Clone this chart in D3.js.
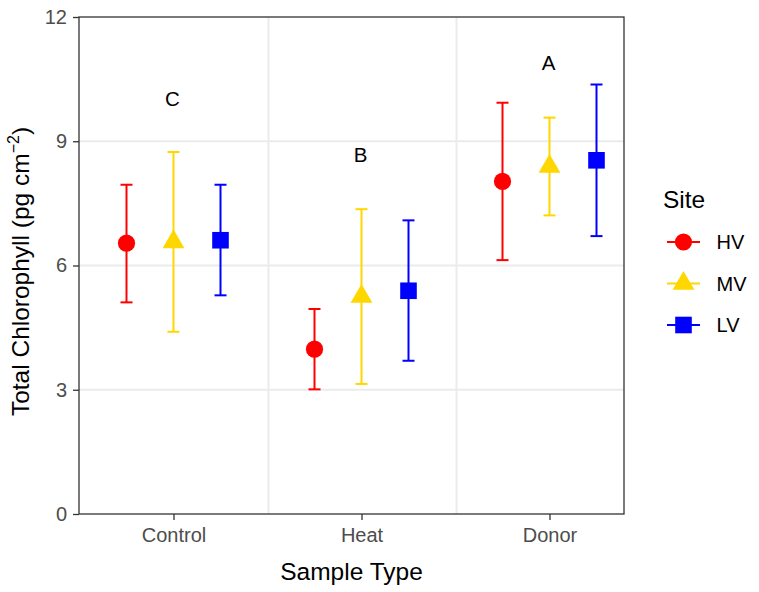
<!DOCTYPE html>
<html>
<head>
<meta charset="utf-8">
<script src="https://cdn.jsdelivr.net/npm/d3@7/dist/d3.min.js"></script>
<style>
  html, body { margin: 0; padding: 0; background: #fff; }
  svg { display: block; font-family: "Liberation Sans", Arial, Helvetica, sans-serif; }
</style>
</head>
<body>
<svg id="chart" width="759" height="592"></svg>
<script>
// Total chlorophyll by sample type and site: mean with error bars
const sampleTypes = ["Control", "Heat", "Donor"];
const sites = ["HV", "MV", "LV"];
const siteColors = ["#FF0000", "#FFD700", "#0000FF"];

// rows follow sampleTypes, columns follow sites
const meanValues = [
  [6.54, 6.57, 6.61],
  [3.98, 5.25, 5.39],
  [8.03, 8.39, 8.54]
];
const lowerValues = [
  [5.11, 4.40, 5.28],
  [3.01, 3.14, 3.70],
  [6.13, 7.21, 6.71]
];
const upperValues = [
  [7.95, 8.74, 7.95],
  [4.95, 7.36, 7.09],
  [9.93, 9.57, 10.37]
];

// significance letters above each sample type
const groupLetters = ["C", "B", "A"];
const letterHeights = [10.02, 8.67, 10.9];

const yTicks = [0, 3, 6, 9, 12];

// layout
const panel = { left: 79, right: 624, top: 17, bottom: 514 };
const svg = d3.select("#chart");

const y = d3.scaleLinear().domain([0, 12]).range([panel.bottom, panel.top]);
const x = d3.scaleLinear().domain([0, 2]).range([173.5, 549.5]);
const dodge = d3.scaleLinear().domain([0, 2]).range([-47, 47]);

// grid
const grid = svg.append("g");
grid.selectAll("line.h")
  .data(yTicks.filter(t => t > 0 && t < 12))
  .join("line")
  .attr("x1", panel.left).attr("x2", panel.right)
  .attr("y1", d => y(d)).attr("y2", d => y(d))
  .attr("stroke", "#EBEBEB").attr("stroke-width", 2);
grid.selectAll("line.v")
  .data([0.5, 1.5])
  .join("line")
  .attr("x1", d => x(d) + 1).attr("x2", d => x(d) + 1)
  .attr("y1", panel.top).attr("y2", panel.bottom)
  .attr("stroke", "#EBEBEB").attr("stroke-width", 2);

// build flat records
const records = [];
sampleTypes.forEach((st, i) => {
  sites.forEach((s, j) => {
    records.push({
      type: i, site: j,
      mean: meanValues[i][j],
      lo: lowerValues[i][j],
      hi: upperValues[i][j]
    });
  });
});

const capHalf = 6;
const marks = svg.append("g");
const eb = marks.selectAll("g.eb").data(records).join("g")
  .attr("transform", d => `translate(${x(d.type) + dodge(d.site)},0)`);
eb.append("line")
  .attr("x1", 0).attr("x2", 0)
  .attr("y1", d => y(d.lo)).attr("y2", d => y(d.hi))
  .attr("stroke", d => siteColors[d.site]).attr("stroke-width", 2);
eb.append("line")
  .attr("x1", -capHalf).attr("x2", capHalf)
  .attr("y1", d => y(d.hi)).attr("y2", d => y(d.hi))
  .attr("stroke", d => siteColors[d.site]).attr("stroke-width", 2);
eb.append("line")
  .attr("x1", -capHalf).attr("x2", capHalf)
  .attr("y1", d => y(d.lo)).attr("y2", d => y(d.lo))
  .attr("stroke", d => siteColors[d.site]).attr("stroke-width", 2);

// point shapes: circle, triangle, square
function shapePath(k) {
  if (k === 0) {
    const r = 8.6;
    return `M${-r},0A${r},${r} 0 1,0 ${r},0A${r},${r} 0 1,0 ${-r},0Z`;
  }
  if (k === 1) {
    const r = 8.1;
    return `M0,${-1.5551 * r}L${1.3468 * r},${0.7776 * r}L${-1.3468 * r},${0.7776 * r}Z`;
  }
  const h = 8.3;
  return `M${-h},${-h}H${h}V${h}H${-h}Z`;
}

eb.append("path")
  .attr("transform", d => `translate(0,${y(d.mean)})`)
  .attr("d", d => shapePath(d.site))
  .attr("fill", d => siteColors[d.site]);

// letters
svg.append("g").selectAll("text").data(groupLetters).join("text")
  .attr("x", (d, i) => x(i) - 1)
  .attr("y", (d, i) => y(letterHeights[i]))
  .attr("dy", "0.36em")
  .attr("text-anchor", "middle")
  .attr("font-size", 20.5)
  .attr("fill", "#000")
  .text(d => d);

// panel border
svg.append("rect")
  .attr("x", panel.left).attr("y", panel.top)
  .attr("width", panel.right - panel.left).attr("height", panel.bottom - panel.top)
  .attr("fill", "none").attr("stroke", "#333333").attr("stroke-width", 1.3);

// y axis
const yAxis = svg.append("g")
  .attr("transform", `translate(${panel.left},0)`)
  .call(d3.axisLeft(y).tickValues(yTicks).tickSize(6).tickPadding(6).tickFormat(d3.format("d")));
yAxis.select(".domain").remove();
yAxis.selectAll(".tick line").attr("stroke", "#333333").attr("stroke-width", 1.3);
yAxis.selectAll(".tick text")
  .attr("font-size", 20).attr("fill", "#4D4D4D")
  .attr("font-family", "Liberation Sans, Arial, Helvetica, sans-serif");

// x axis
const xAxis = svg.append("g")
  .attr("transform", `translate(0,${panel.bottom})`)
  .call(d3.axisBottom(x).tickValues([0, 1, 2]).tickSize(6).tickPadding(8)
    .tickFormat(i => sampleTypes[i]));
xAxis.select(".domain").remove();
xAxis.selectAll(".tick line").attr("stroke", "#333333").attr("stroke-width", 1.3);
xAxis.selectAll(".tick text")
  .attr("font-size", 20).attr("fill", "#4D4D4D")
  .attr("font-family", "Liberation Sans, Arial, Helvetica, sans-serif");

// axis titles
svg.append("text")
  .attr("x", (panel.left + panel.right) / 2)
  .attr("y", 580)
  .attr("text-anchor", "middle")
  .attr("font-size", 24.5)
  .attr("fill", "#000")
  .text("Sample Type");

const yTitle = svg.append("text")
  .attr("transform", `translate(29,${(panel.top + panel.bottom) / 2 + 6}) rotate(-90)`)
  .attr("text-anchor", "middle")
  .attr("font-size", 24.5)
  .attr("fill", "#000");
yTitle.append("tspan").text("Total Chlorophyll (pg cm");
yTitle.append("tspan").attr("font-size", 16).attr("dy", "-0.6em").text("\u22122");
yTitle.append("tspan").attr("dy", "0.4em").text(")");

// legend
const legend = svg.append("g");
legend.append("text")
  .attr("x", 663).attr("y", 208)
  .attr("font-size", 24.5).attr("fill", "#000")
  .text("Site");
const keyY = d3.scaleLinear().domain([0, 2]).range([242, 325]);
const keys = legend.selectAll("g.key").data(sites).join("g")
  .attr("transform", (d, i) => `translate(0,${keyY(i)})`);
keys.append("line")
  .attr("x1", 667).attr("x2", 700).attr("y1", 0).attr("y2", 0)
  .attr("stroke", (d, i) => siteColors[i]).attr("stroke-width", 2);
keys.append("path")
  .attr("transform", "translate(683.5,0)")
  .attr("d", (d, i) => shapePath(i))
  .attr("fill", (d, i) => siteColors[i]);
keys.append("text")
  .attr("x", 716.5).attr("y", 0).attr("dy", "0.36em")
  .attr("font-size", 20).attr("fill", "#000")
  .text(d => d);
</script>
</body>
</html>
